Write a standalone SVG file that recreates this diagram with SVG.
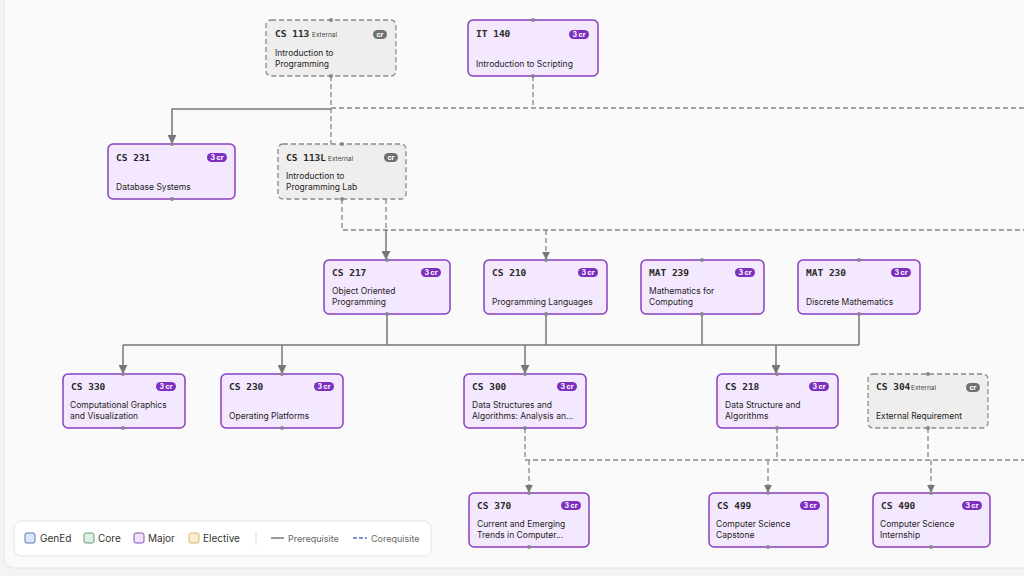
<svg xmlns="http://www.w3.org/2000/svg" width="1024" height="576" viewBox="0 0 1024 576">
<defs>
<style>
.n{fill:#f3e8fd;stroke:#8a3fc0;stroke-width:1.5}
.x{fill:#efeeed;stroke:#8a8a8a;stroke-width:1.3;stroke-dasharray:5 3}
.code{font-family:"DejaVu Sans Mono",monospace;font-size:9.5px;font-weight:bold;fill:#2a2a2a}
.t{font-family:Inter,"Liberation Sans",sans-serif;font-size:8.5px;fill:#1e1e1e}
.ext{font-family:Inter,"Liberation Sans",sans-serif;font-size:6.5px;fill:#444}
.b{fill:#7d2fc0}.bx{fill:#707070}
.bt{font-family:Inter,"Liberation Sans",sans-serif;font-size:7px;fill:#fff;font-weight:bold;text-anchor:middle}
.s{fill:none;stroke:#777;stroke-width:1.5}
.d{fill:none;stroke:#888;stroke-width:1.3;stroke-dasharray:5 3}
.dot{fill:#888}
.lg{font-family:Inter,"Liberation Sans",sans-serif;font-size:10px;fill:#333}
</style>
<marker id="a" viewBox="0 0 10 10" refX="9" refY="5" markerWidth="6" markerHeight="6" orient="auto"><path d="M0,0L10,5L0,10z" fill="#777"/></marker>
</defs>
<rect width="1024" height="576" fill="#f4f4f5"/>
<rect x="4" y="-10" width="1030" height="578" rx="10" fill="#fafafa" stroke="#e4e4e6"/>
<g id="connectors">
<path class="d" d="M331,76V144"/>
<path class="s" d="M331,109H172V143" marker-end="url(#a)"/>
<path class="d" d="M331,108H1024"/>
<path class="d" d="M533,76V108"/>
<path class="d" d="M342,199V230H1024"/>
<path class="d" d="M386,199V230"/>
<path class="s" d="M386,230V259" marker-end="url(#a)"/>
<path class="d" d="M546,230V259" marker-end="url(#a)"/>
<path class="s" d="M387,314V345M546,314V345M702,314V345M859,314V345M123,345H859"/>
<path class="s" d="M123,345V373" marker-end="url(#a)"/>
<path class="s" d="M282,345V373" marker-end="url(#a)"/>
<path class="s" d="M525,345V373" marker-end="url(#a)"/>
<path class="s" d="M776,345V373" marker-end="url(#a)"/>
<path class="d" d="M525,428V460H1024M777,428V460M928,428V460"/>
<path class="d" d="M529,460V492" marker-end="url(#a)"/>
<path class="d" d="M768,460V492" marker-end="url(#a)"/>
<path class="d" d="M931,460V492" marker-end="url(#a)"/>
</g>
<g id="cs113"><rect class="x" x="266" y="20" width="130" height="56" rx="5"/><text class="code" x="275" y="37">CS 113</text><text class="ext" x="312" y="37">External</text><rect class="bx" x="373" y="30" width="14" height="9" rx="4.5"/><text class="bt" x="380" y="37">cr</text><text class="t" x="275" y="56">Introduction to</text><text class="t" x="275" y="67">Programming</text><circle class="dot" cx="331" cy="20" r="2"/><circle class="dot" cx="331" cy="76" r="2"/></g>
<g id="it140"><rect class="n" x="468" y="20" width="130" height="56" rx="5"/><text class="code" x="476" y="37">IT 140</text><rect class="b" x="569" y="30" width="20" height="9" rx="4.5"/><text class="bt" x="579" y="37">3 cr</text><text class="t" x="476" y="67">Introduction to Scripting</text><circle class="dot" cx="533" cy="20" r="2"/><circle class="dot" cx="533" cy="76" r="2"/></g>
<g id="cs231"><rect class="n" x="108" y="144" width="127" height="55" rx="5"/><text class="code" x="116" y="161">CS 231</text><rect class="b" x="207" y="153" width="20" height="9" rx="4.5"/><text class="bt" x="217" y="160">3 cr</text><text class="t" x="116" y="190">Database Systems</text><circle class="dot" cx="172" cy="144" r="2"/><circle class="dot" cx="172" cy="199" r="2"/></g>
<g id="cs113l"><rect class="x" x="278" y="144" width="128" height="55" rx="5"/><text class="code" x="286" y="161">CS 113L</text><text class="ext" x="328" y="161">External</text><rect class="bx" x="384" y="153" width="14" height="9" rx="4.5"/><text class="bt" x="391" y="160">cr</text><text class="t" x="286" y="179">Introduction to</text><text class="t" x="286" y="190">Programming Lab</text><circle class="dot" cx="342" cy="144" r="2"/><circle class="dot" cx="342" cy="199" r="2"/></g>
<g id="cs217"><rect class="n" x="324" y="260" width="126" height="54" rx="5"/><text class="code" x="332" y="276">CS 217</text><rect class="b" x="421" y="268" width="20" height="9" rx="4.5"/><text class="bt" x="431" y="275">3 cr</text><text class="t" x="332" y="294">Object Oriented</text><text class="t" x="332" y="305">Programming</text><circle class="dot" cx="387" cy="260" r="2"/><circle class="dot" cx="387" cy="314" r="2"/></g>
<g id="cs210"><rect class="n" x="484" y="260" width="123" height="54" rx="5"/><text class="code" x="492" y="276">CS 210</text><rect class="b" x="578" y="268" width="20" height="9" rx="4.5"/><text class="bt" x="588" y="275">3 cr</text><text class="t" x="492" y="305">Programming Languages</text><circle class="dot" cx="546" cy="260" r="2"/><circle class="dot" cx="546" cy="314" r="2"/></g>
<g id="mat239"><rect class="n" x="641" y="260" width="123" height="54" rx="5"/><text class="code" x="649" y="276">MAT 239</text><rect class="b" x="735" y="268" width="20" height="9" rx="4.5"/><text class="bt" x="745" y="275">3 cr</text><text class="t" x="649" y="294">Mathematics for</text><text class="t" x="649" y="305">Computing</text><circle class="dot" cx="702" cy="260" r="2"/><circle class="dot" cx="702" cy="314" r="2"/></g>
<g id="mat230"><rect class="n" x="798" y="260" width="122" height="54" rx="5"/><text class="code" x="806" y="276">MAT 230</text><rect class="b" x="891" y="268" width="20" height="9" rx="4.5"/><text class="bt" x="901" y="275">3 cr</text><text class="t" x="806" y="305">Discrete Mathematics</text><circle class="dot" cx="859" cy="260" r="2"/><circle class="dot" cx="859" cy="314" r="2"/></g>
<g id="cs330"><rect class="n" x="63" y="374" width="122" height="54" rx="5"/><text class="code" x="71" y="390">CS 330</text><rect class="b" x="156" y="382" width="20" height="9" rx="4.5"/><text class="bt" x="166" y="389">3 cr</text><text class="t" x="70" y="408">Computational Graphics</text><text class="t" x="70" y="419">and Visualization</text><circle class="dot" cx="123" cy="374" r="2"/><circle class="dot" cx="123" cy="428" r="2"/></g>
<g id="cs230"><rect class="n" x="221" y="374" width="122" height="54" rx="5"/><text class="code" x="229" y="390">CS 230</text><rect class="b" x="314" y="382" width="20" height="9" rx="4.5"/><text class="bt" x="324" y="389">3 cr</text><text class="t" x="229" y="419">Operating Platforms</text><circle class="dot" cx="282" cy="374" r="2"/><circle class="dot" cx="282" cy="428" r="2"/></g>
<g id="cs300"><rect class="n" x="464" y="374" width="122" height="54" rx="5"/><text class="code" x="472" y="390">CS 300</text><rect class="b" x="557" y="382" width="20" height="9" rx="4.5"/><text class="bt" x="567" y="389">3 cr</text><text class="t" x="472" y="408">Data Structures and</text><text class="t" x="472" y="419">Algorithms: Analysis an...</text><circle class="dot" cx="525" cy="374" r="2"/><circle class="dot" cx="525" cy="428" r="2"/></g>
<g id="cs218"><rect class="n" x="717" y="374" width="121" height="54" rx="5"/><text class="code" x="725" y="390">CS 218</text><rect class="b" x="809" y="382" width="20" height="9" rx="4.5"/><text class="bt" x="819" y="389">3 cr</text><text class="t" x="725" y="408">Data Structure and</text><text class="t" x="725" y="419">Algorithms</text><circle class="dot" cx="777" cy="374" r="2"/><circle class="dot" cx="777" cy="428" r="2"/></g>
<g id="cs304"><rect class="x" x="868" y="374" width="120" height="54" rx="5"/><text class="code" x="876" y="390">CS 304</text><text class="ext" x="911" y="390">External</text><rect class="bx" x="966" y="383" width="14" height="9" rx="4.5"/><text class="bt" x="973" y="390">cr</text><text class="t" x="876" y="419">External Requirement</text><circle class="dot" cx="928" cy="374" r="2"/><circle class="dot" cx="928" cy="428" r="2"/></g>
<g id="cs370"><rect class="n" x="469" y="493" width="120" height="54" rx="5"/><text class="code" x="477" y="509">CS 370</text><rect class="b" x="561" y="501" width="20" height="9" rx="4.5"/><text class="bt" x="571" y="508">3 cr</text><text class="t" x="477" y="527">Current and Emerging</text><text class="t" x="477" y="538">Trends in Computer...</text><circle class="dot" cx="529" cy="493" r="2"/><circle class="dot" cx="529" cy="547" r="2"/></g>
<g id="cs499"><rect class="n" x="709" y="493" width="119" height="54" rx="5"/><text class="code" x="717" y="509">CS 499</text><rect class="b" x="800" y="501" width="20" height="9" rx="4.5"/><text class="bt" x="810" y="508">3 cr</text><text class="t" x="716" y="527">Computer Science</text><text class="t" x="716" y="538">Capstone</text><circle class="dot" cx="768" cy="493" r="2"/><circle class="dot" cx="768" cy="547" r="2"/></g>
<g id="cs490"><rect class="n" x="873" y="493" width="117" height="54" rx="5"/><text class="code" x="881" y="509">CS 490</text><rect class="b" x="962" y="501" width="20" height="9" rx="4.5"/><text class="bt" x="972" y="508">3 cr</text><text class="t" x="880" y="527">Computer Science</text><text class="t" x="880" y="538">Internship</text><circle class="dot" cx="931" cy="493" r="2"/><circle class="dot" cx="931" cy="547" r="2"/></g>
<g id="legend">
<rect x="14" y="521" width="417" height="35" rx="7" fill="#fff" stroke="#e2e2e4"/>
<rect x="25" y="533" width="10" height="10" rx="2" fill="#dde6fa" stroke="#5a72b0"/><text class="lg" x="40" y="542">GenEd</text>
<rect x="84" y="533" width="10" height="10" rx="2" fill="#ddf0e2" stroke="#6a9a76"/><text class="lg" x="98" y="542">Core</text>
<rect x="134" y="533" width="10" height="10" rx="2" fill="#f0e2fb" stroke="#8a4fb8"/><text class="lg" x="148" y="542">Major</text>
<rect x="189" y="533" width="10" height="10" rx="2" fill="#fbecd0" stroke="#d8b870"/><text class="lg" x="203" y="542">Elective</text>
<line x1="256" y1="531" x2="256" y2="545" stroke="#ddd"/>
<line x1="271" y1="538" x2="284" y2="538" stroke="#777" stroke-width="1.5"/><text class="lg" x="288" y="542" style="font-size:9px;fill:#666">Prerequisite</text>
<line x1="353" y1="538" x2="367" y2="538" stroke="#5a72b0" stroke-width="1.5" stroke-dasharray="4 2"/><text class="lg" x="371" y="542" style="font-size:9px;fill:#666">Corequisite</text>
</g>
</svg>
